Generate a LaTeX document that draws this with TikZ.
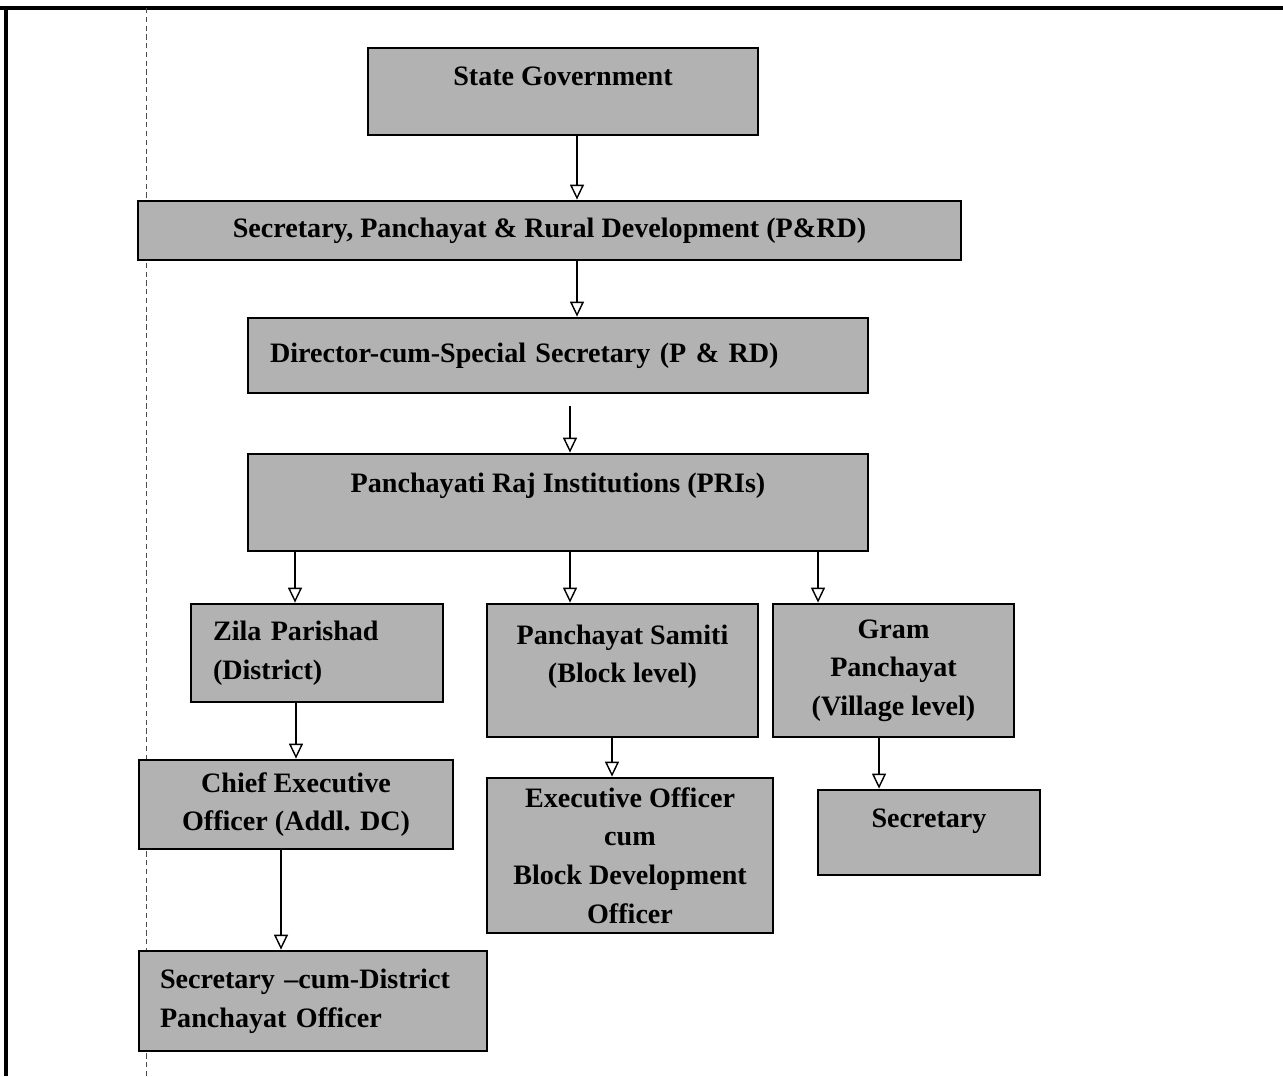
\documentclass[tikz,border=0pt]{standalone}
\usepackage{fontspec}
\setmainfont{Liberation Serif}
\usetikzlibrary{arrows.meta}
\tikzset{
  box/.style={draw=black, line width=1.6pt, fill=black!30, font=\fontsize{16}{22}\selectfont\bfseries, align=center, inner sep=0pt},
  lbox/.style={box, align=left, inner xsep=0.44cm, text width=#1},
  arr/.style={black, line width=1.1pt, -{Triangle[fill=white, width=0.28cm, length=0.3cm, line width=0.8pt]}},
  up/.style={text depth=#1}
}
\begin{document}
\begin{tikzpicture}[x=0.02cm,y=-0.02cm]
   \useasboundingbox (0,0) rectangle (1283,1076);
   \draw [line width=2pt] (0,8) -- (1283,8);
   \draw [line width=2pt] (6,8) -- (6,1076);
   \draw [black!70,line width=0.4pt,densely dashed] (146,8) -- (146,1076);
   \node [box, minimum width=7.8cm, minimum height=1.74cm, up=0.61cm] (state) at (563,91.5) {State Government};
   \node [box, minimum width=16.46cm, minimum height=1.18cm] (secr) at (549.5,230.5) {Secretary, Panchayat \& Rural Development (P\&RD)};
   \node [lbox=11.52cm, minimum width=12.4cm, minimum height=1.5cm] (dir) at (558,355.5) {Director-cum-Special Secretary (P \& RD)};
   \node [box, minimum width=12.4cm, minimum height=1.94cm, up=0.79cm] (pri) at (558,502.5) {Panchayati Raj Institutions (PRIs)};
   \node [lbox=4.16cm, minimum width=5.04cm, minimum height=1.96cm] (zila) at (317,653) {Zila Parishad\\(District)};
   \node [box, minimum width=5.42cm, minimum height=2.66cm, up=0.67cm] (samiti) at (622.5,670.5) {Panchayat Samiti\\(Block level)};
   \node [box, minimum width=4.82cm, minimum height=2.66cm] (gram) at (893.5,670.5) {Gram\\Panchayat\\(Village level)};
   \node [box, minimum width=6.28cm, minimum height=1.78cm] (ceo) at (296,804.5) {Chief Executive\\Officer (Addl. DC)};
   \node [box, minimum width=5.72cm, minimum height=3.1cm] (eo) at (630,855.5) {Executive Officer\\cum\\Block Development\\Officer};
   \node [box, minimum width=4.44cm, minimum height=1.7cm, up=0.59cm] (sec) at (929,832.5) {Secretary};
   \node [lbox=6.12cm, inner xsep=0.42cm, minimum width=6.96cm, minimum height=2cm] (dpo) at (313,1001) {Secretary --cum-District\\Panchayat Officer};
   \draw [arr] ([xshift=0.28cm]state.south) -- ([xshift=0.28cm]state.south |- secr.north);
   \draw [arr] ([xshift=0.38cm]dir.north |- secr.south) -- ([xshift=0.38cm]dir.north);
   \draw [arr] ([xshift=0.24cm,yshift=-0.24cm]dir.south) -- ([xshift=0.24cm]pri.north);
   \draw [arr] ([xshift=-0.44cm]zila.north |- pri.south) -- ([xshift=-0.44cm]zila.north);
   \draw [arr] ([xshift=-1.05cm]samiti.north |- pri.south) -- ([xshift=-1.05cm]samiti.north);
   \draw [arr] ([xshift=-1.51cm]gram.north |- pri.south) -- ([xshift=-1.51cm]gram.north);
   \draw [arr] (ceo.north |- zila.south) -- (ceo.north);
   \draw [arr] ([xshift=-0.36cm]eo.north |- samiti.south) -- ([xshift=-0.36cm]eo.north);
   \draw [arr] ([xshift=-1cm]sec.north |- gram.south) -- ([xshift=-1cm]sec.north);
   \draw [arr] ([xshift=-0.3cm]ceo.south) -- ([xshift=-0.3cm]ceo.south |- dpo.north);
\end{tikzpicture}
\end{document}
